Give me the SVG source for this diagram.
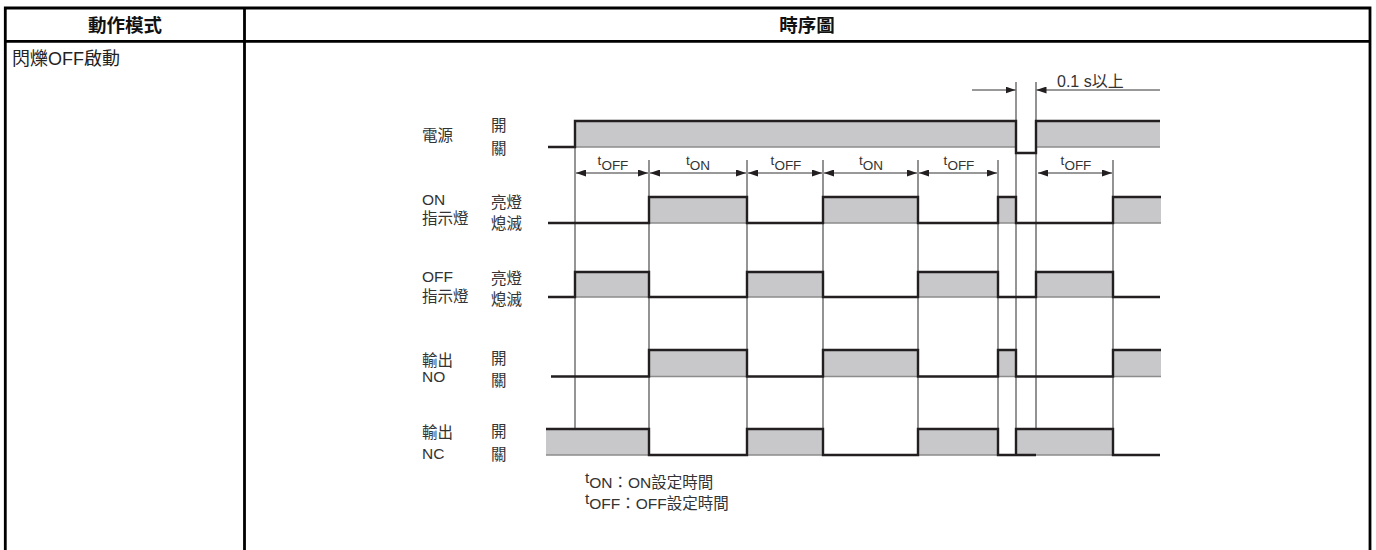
<svg xmlns="http://www.w3.org/2000/svg" width="1376" height="550" viewBox="0 0 1376 550">
<style>
.tb{fill:none;stroke:#000;stroke-width:2.8}
.hd{font-family:"Liberation Sans","Noto Sans CJK TC",sans-serif;font-size:18.5px;font-weight:bold;fill:#111;text-anchor:middle}
.cell{font-family:"Liberation Sans","Noto Sans CJK TC",sans-serif;font-size:18px;fill:#222}
.lb{font-family:"Liberation Sans","Noto Sans CJK TC",sans-serif;font-size:15.5px;fill:#333}
.tl{font-family:"Liberation Sans","Noto Sans CJK TC",sans-serif;font-size:13.5px;fill:#333;text-anchor:middle}
.fill{fill:#c8c8ca}
.bot{stroke:#8c8c8c;stroke-width:1.3;fill:none}
.sig{fill:none;stroke:#231f20;stroke-width:2.4;stroke-linejoin:miter}
.ext{stroke:#3a3a3a;stroke-width:1.1}
.extg{stroke:#8a8a8a;stroke-width:1.8}
.dim{stroke:#333;stroke-width:1;fill:none}
</style>
<defs>
<marker id="ah" viewBox="0 0 10 7" refX="10" refY="3.5" markerWidth="10" markerHeight="7" markerUnits="userSpaceOnUse" orient="auto-start-reverse">
<path d="M0,0 L10,3.5 L0,7 z" fill="#231f20"/>
</marker>
</defs>
<rect width="1376" height="550" fill="#fff"/>
<g id="table">
<path class="tb" d="M5.3,550 V8 H1370 V550 M5.3,41.3 H1370 M244.5,8 V550"/>
<text class="hd" x="125" y="32">動作模式</text>
<text class="hd" x="807" y="32">時序圖</text>
<text class="cell" x="12" y="65">閃爍OFF啟動</text>
</g>
<g id="connectors">
<line class="extg" x1="575" y1="121" x2="575" y2="429"/>
<line class="ext" x1="649" y1="160" x2="649" y2="455"/>
<line class="extg" x1="747" y1="160" x2="747" y2="455"/>
<line class="ext" x1="823" y1="160" x2="823" y2="455"/>
<line class="ext" x1="918" y1="160" x2="918" y2="455"/>
<line class="extg" x1="998" y1="160" x2="998" y2="455"/>
<line class="extg" x1="1016" y1="82" x2="1016" y2="455"/>
<line class="ext" x1="1036" y1="82" x2="1036" y2="429"/>
<line class="ext" x1="1113" y1="160" x2="1113" y2="455"/>
<line class="dim" x1="576" y1="173" x2="648" y2="173" marker-start="url(#ah)" marker-end="url(#ah)"/>
<line class="dim" x1="650" y1="173" x2="746" y2="173" marker-start="url(#ah)" marker-end="url(#ah)"/>
<line class="dim" x1="748" y1="173" x2="822" y2="173" marker-start="url(#ah)" marker-end="url(#ah)"/>
<line class="dim" x1="824" y1="173" x2="917" y2="173" marker-start="url(#ah)" marker-end="url(#ah)"/>
<line class="dim" x1="919" y1="173" x2="997" y2="173" marker-start="url(#ah)" marker-end="url(#ah)"/>
<line class="dim" x1="1038" y1="173" x2="1112" y2="173" marker-start="url(#ah)" marker-end="url(#ah)"/>
<line class="dim" x1="972" y1="90" x2="1015.5" y2="90" marker-end="url(#ah)"/>
<line class="dim" x1="1160" y1="90" x2="1036.5" y2="90" marker-end="url(#ah)"/>
</g>
<g id="dim-labels">
<text class="tl" x="613" y="170"><tspan dy="-5">t</tspan><tspan dy="5">OFF</tspan></text>
<text class="tl" x="698" y="170"><tspan dy="-5">t</tspan><tspan dy="5">ON</tspan></text>
<text class="tl" x="786" y="170"><tspan dy="-5">t</tspan><tspan dy="5">OFF</tspan></text>
<text class="tl" x="871" y="170"><tspan dy="-5">t</tspan><tspan dy="5">ON</tspan></text>
<text class="tl" x="959" y="170"><tspan dy="-5">t</tspan><tspan dy="5">OFF</tspan></text>
<text class="tl" x="1076" y="170"><tspan dy="-5">t</tspan><tspan dy="5">OFF</tspan></text>
<text class="lb" x="1057" y="87" style="font-size:16px">0.1 s以上</text>
</g>
<g id="power">
<text class="lb" x="422" y="141">電源</text>
<text class="lb" x="491" y="131">開</text>
<text class="lb" x="491" y="154">關</text>
<rect class="fill" x="575" y="121" width="441" height="26"/>
<rect class="fill" x="1036" y="121" width="124" height="26"/>
<path class="bot" d="M575,147 H1016 M1036,147 H1160"/>
<path class="sig" d="M548,147 H575 V121 H1016 V153 H1036 V121 H1160"/>
</g>
<g id="on-indicator">
<text class="lb" x="422" y="205">ON</text>
<text class="lb" x="422" y="224">指示燈</text>
<text class="lb" x="491" y="208">亮燈</text>
<text class="lb" x="491" y="229">熄滅</text>
<rect class="fill" x="649" y="197" width="98" height="26"/>
<rect class="fill" x="823" y="197" width="95" height="26"/>
<rect class="fill" x="998" y="197" width="18" height="26"/>
<rect class="fill" x="1113" y="197" width="48" height="26"/>
<path class="bot" d="M649,223 H747 M823,223 H918 M998,223 H1016 M1113,223 H1161"/>
<path class="sig" d="M548,223 H649 V197 H747 V223 H823 V197 H918 V223 H998 V197 H1016 V223 H1113 V197 H1161"/>
</g>
<g id="off-indicator">
<text class="lb" x="422" y="282">OFF</text>
<text class="lb" x="422" y="302">指示燈</text>
<text class="lb" x="491" y="284">亮燈</text>
<text class="lb" x="491" y="305">熄滅</text>
<rect class="fill" x="575" y="272" width="74" height="25"/>
<rect class="fill" x="747" y="272" width="76" height="25"/>
<rect class="fill" x="918" y="272" width="80" height="25"/>
<rect class="fill" x="1036" y="272" width="77" height="25"/>
<path class="bot" d="M575,297 H649 M747,297 H823 M918,297 H998 M1036,297 H1113"/>
<path class="sig" d="M548,297 H575 V272 H649 V297 H747 V272 H823 V297 H918 V272 H998 V297 H1036 V272 H1113 V297 H1160"/>
</g>
<g id="output-no">
<text class="lb" x="422" y="366">輸出</text>
<text class="lb" x="422" y="382">NO</text>
<text class="lb" x="491" y="364">開</text>
<text class="lb" x="491" y="386">關</text>
<rect class="fill" x="649" y="350" width="98" height="26.5"/>
<rect class="fill" x="823" y="350" width="95" height="26.5"/>
<rect class="fill" x="998" y="350" width="18" height="26.5"/>
<rect class="fill" x="1113" y="350" width="48" height="26.5"/>
<path class="bot" d="M649,376.5 H747 M823,376.5 H918 M998,376.5 H1016 M1113,376.5 H1161"/>
<path class="sig" d="M551,376.5 H649 V350 H747 V376.5 H823 V350 H918 V376.5 H998 V350 H1016 V376.5 H1113 V350 H1161"/>
</g>
<g id="output-nc">
<text class="lb" x="422" y="438">輸出</text>
<text class="lb" x="422" y="459">NC</text>
<text class="lb" x="491" y="437">開</text>
<text class="lb" x="491" y="460">關</text>
<rect class="fill" x="546" y="429" width="103" height="26"/>
<rect class="fill" x="747" y="429" width="76" height="26"/>
<rect class="fill" x="918" y="429" width="80" height="26"/>
<rect class="fill" x="1016" y="429" width="97" height="26"/>
<path class="bot" d="M546,455 H649 M747,455 H823 M918,455 H998 M1036,455 H1113"/>
<path class="sig" d="M546,429 H649 V455 H747 V429 H823 V455 H918 V429 H998 V455 H1036 M1016,455 V429 H1113 V455 H1160"/>
</g>
<g id="legend">
<text class="lb" x="585" y="488"><tspan dy="-5">t</tspan><tspan dy="5">ON：ON設定時間</tspan></text>
<text class="lb" x="585" y="509"><tspan dy="-5">t</tspan><tspan dy="5">OFF：OFF設定時間</tspan></text>
</g>
</svg>
